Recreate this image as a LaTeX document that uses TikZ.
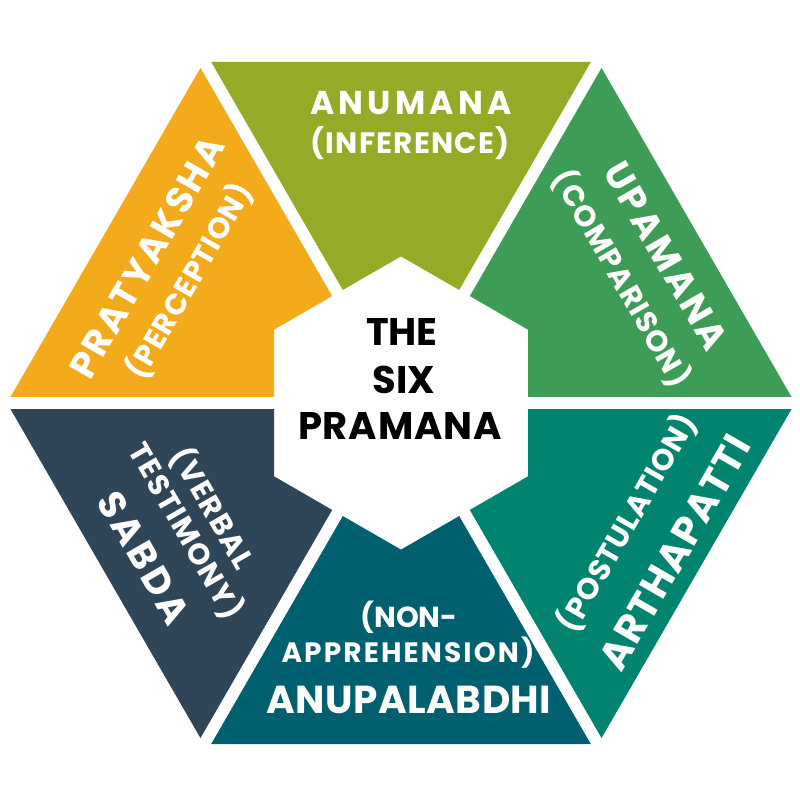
\documentclass[tikz,border=0pt]{standalone}
\usepackage{fontspec}
\usetikzlibrary{calc}
\setmainfont{Poppins}
\definecolor{cOrange}{HTML}{F3AA1B}
\definecolor{cOlive}{HTML}{95AB28}
\definecolor{cGreen}{HTML}{3D9C55}
\definecolor{cTealGreen}{HTML}{00836F}
\definecolor{cTeal}{HTML}{00606F}
\definecolor{cSlate}{HTML}{2E4657}
\makeatletter
\newcommand\spreadto[2]{\makebox[#1][s]{\@tfor\next:=#2\do{\next\hfil}\unskip}}
\makeatother
\newcommand\mainf[1]{\bfseries\fontsize{#1}{#1}\selectfont}
\newcommand\subf[1]{\bfseries\fontsize{#1}{#1}\selectfont}
\tikzset{
  gap/.style={white, line width=12pt},
  lbl/.style={text=white, inner sep=0pt, outer sep=0pt, text depth=0pt, anchor=center},
}
\begin{document}
\begin{tikzpicture}[x=1pt,y=-1pt]
\useasboundingbox (0,0) rectangle (800,800);
\fill[white] (0,0) rectangle (800,800);
% geometry
\coordinate (C) at (401,403);
\coordinate (V0) at (795,403);
\coordinate (V1) at (598,61.8);
\coordinate (V2) at (204,61.8);
\coordinate (V3) at (7,403);
\coordinate (V4) at (204,744.2);
\coordinate (V5) at (598,744.2);
\coordinate (P0) at (528,403);
\coordinate (P1) at (464.5,293);
\coordinate (P2) at (337.5,293);
\coordinate (P3) at (274,403);
\coordinate (P4) at (337.5,513);
\coordinate (P5) at (464.5,513);
\coordinate (Q01) at (528,329.7);
\coordinate (Q12) at (401,256.4);
\coordinate (Q23) at (274,329.7);
\coordinate (Q34) at (274,476.3);
\coordinate (Q45) at (401,549.6);
\coordinate (Q50) at (528,476.3);
% sectors
\fill[cOlive] (V2) -- (V1) -- (P1) -- (Q12) -- (P2) -- cycle;
\fill[cGreen] (V1) -- (V0) -- (P0) -- (Q01) -- (P1) -- cycle;
\fill[cTealGreen] (V0) -- (V5) -- (P5) -- (Q50) -- (P0) -- cycle;
\fill[cTeal] (V5) -- (V4) -- (P4) -- (Q45) -- (P5) -- cycle;
\fill[cSlate] (V4) -- (V3) -- (P3) -- (Q34) -- (P4) -- cycle;
\fill[cOrange] (V3) -- (V2) -- (P2) -- (Q23) -- (P3) -- cycle;
% gaps
\foreach \v in {V0,V1,V2,V3,V4,V5}{
  \draw[gap] (C) -- ($(C)!1.08!(\v)$);
}
% top: anumana
\node[lbl, font=\mainf{33}, text height=23pt] (anu1) at (411,103) {\spreadto{201pt}{ANUMANA}};
\node[lbl, font=\subf{29.5}, text height=20.6pt] (anu2) at (410,143) {\spreadto{199pt}{(INFERENCE)}};
% centre
\node[lbl, text=black, font=\mainf{38.5}, text height=27pt] (c1) at (400,332) {\spreadto{68pt}{THE}};
\node[lbl, text=black, font=\mainf{38.5}, text height=27pt] (c2) at (400,380) {\spreadto{55pt}{SIX}};
\node[lbl, text=black, font=\mainf{38.5}, text height=27pt] (c3) at (400,426) {\spreadto{204pt}{PRAMANA}};
% bottom: anupalabdhi
\node[lbl, font=\subf{29}, text height=20.3pt] (np1) at (407,617) {\spreadto{93pt}{(NON-}};
\node[lbl, font=\subf{28}, text height=19.6pt] (np2) at (408,653) {\spreadto{253pt}{APPREHENSION)}};
\node[lbl, font=\mainf{39}, text height=27.3pt] (np3) at (409,699.7) {\spreadto{285pt}{ANUPALABDHI}};
% upper left: pratyaksha
\node[lbl, font=\mainf{37}, text height=26pt, rotate=60] (pr1) at (147,257.5) {\spreadto{272pt}{PRATYAKSHA}};
\node[lbl, font=\subf{29.5}, text height=20.6pt, rotate=60] (pr2) at (189.5,281) {\spreadto{220pt}{(PERCEPTION)}};
% upper right: upamana
\node[lbl, font=\mainf{37}, text height=26pt, rotate=-60] (up1) at (666,256) {\spreadto{210pt}{UPAMANA}};
\node[lbl, font=\subf{29.5}, text height=20.6pt, rotate=-60] (up2) at (621.5,278.5) {\spreadto{244pt}{(COMPARISON)}};
% lower right: arthapatti
\node[lbl, font=\mainf{40}, text height=28pt, rotate=60] (ar1) at (675,552.5) {\spreadto{263pt}{ARTHAPATTI}};
\node[lbl, font=\subf{30}, text height=21pt, rotate=60] (ar2) at (627,523) {\spreadto{245pt}{(POSTULATION)}};
% lower left: sabda
\node[lbl, font=\mainf{38}, text height=26.6pt, rotate=-60] (sa1) at (144,558) {\spreadto{146pt}{SABDA}};
\node[lbl, font=\subf{29.5}, text height=20.6pt, rotate=-60] (sa2) at (186,531) {\spreadto{198pt}{TESTIMONY)}};
\node[lbl, font=\subf{29.5}, text height=20.6pt, rotate=-60] (sa3) at (212.5,508.5) {\spreadto{135pt}{(VERBAL}};
\end{tikzpicture}
\end{document}
